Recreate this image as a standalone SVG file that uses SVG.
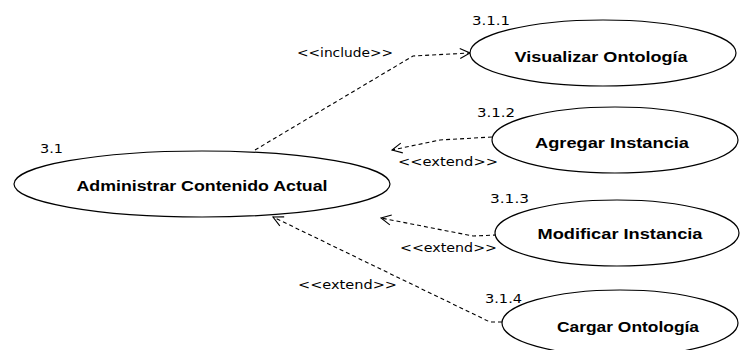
<svg xmlns="http://www.w3.org/2000/svg" width="742" height="350" viewBox="0 0 742 350">
  <defs>
    <marker id="open" viewBox="0 0 12 12" refX="11" refY="6" markerWidth="12" markerHeight="12" markerUnits="userSpaceOnUse" orient="auto">
      <path d="M1 1 L11 6 L1 11" fill="none" stroke="#000" stroke-width="1.1"/>
    </marker>
  </defs>
  <style>
    .uc { fill: #fff; stroke: #000; stroke-width: 1.2; }
    .name { font-family: "Liberation Sans", Arial, sans-serif; font-weight: bold; font-size: 15px; fill: #000; text-anchor: middle; }
    .num { font-family: "DejaVu Sans", Verdana, sans-serif; font-size: 13px; fill: #000; }
    .st { font-family: "DejaVu Sans", Verdana, sans-serif; font-size: 12.5px; fill: #000; }
    .dep { fill: none; stroke: #000; stroke-width: 1.1; stroke-dasharray: 4 3; marker-end: url(#open); }
  </style>
  <rect width="742" height="350" fill="#fff"/>

  <g id="connectors">
    <path class="dep" d="M255 150 L413 56 L470 53"/>
    <text class="st" x="297" y="57" textLength="96" lengthAdjust="spacingAndGlyphs">&lt;&lt;include&gt;&gt;</text>

    <path class="dep" d="M492 137 L440 140 L392 150"/>
    <text class="st" x="398" y="166" textLength="100" lengthAdjust="spacingAndGlyphs">&lt;&lt;extend&gt;&gt;</text>

    <path class="dep" d="M497 235 L473 236 L381 218"/>
    <text class="st" x="400" y="252" textLength="97" lengthAdjust="spacingAndGlyphs">&lt;&lt;extend&gt;&gt;</text>

    <path class="dep" d="M502 322 L490 322 L273 217"/>
    <text class="st" x="298" y="289" textLength="99" lengthAdjust="spacingAndGlyphs">&lt;&lt;extend&gt;&gt;</text>
  </g>

  <g id="uc-3.1">
    <ellipse class="uc" cx="202" cy="184" rx="188" ry="33"/>
    <text class="name" x="202" y="191" textLength="251" lengthAdjust="spacingAndGlyphs">Administrar Contenido Actual</text>
    <text class="num" x="40" y="153" textLength="23" lengthAdjust="spacingAndGlyphs">3.1</text>
  </g>

  <g id="uc-3.1.1">
    <ellipse class="uc" cx="603" cy="53" rx="133" ry="33"/>
    <text class="name" x="601" y="62" textLength="173" lengthAdjust="spacingAndGlyphs">Visualizar Ontología</text>
    <text class="num" x="472" y="25" textLength="38" lengthAdjust="spacingAndGlyphs">3.1.1</text>
  </g>

  <g id="uc-3.1.2">
    <ellipse class="uc" cx="615" cy="140" rx="123" ry="33"/>
    <text class="name" x="612" y="148" textLength="154" lengthAdjust="spacingAndGlyphs">Agregar Instancia</text>
    <text class="num" x="477" y="117" textLength="38" lengthAdjust="spacingAndGlyphs">3.1.2</text>
  </g>

  <g id="uc-3.1.3">
    <ellipse class="uc" cx="617" cy="233" rx="122" ry="33"/>
    <text class="name" x="620" y="239" textLength="165" lengthAdjust="spacingAndGlyphs">Modificar Instancia</text>
    <text class="num" x="490" y="203" textLength="39" lengthAdjust="spacingAndGlyphs">3.1.3</text>
  </g>

  <g id="uc-3.1.4">
    <ellipse class="uc" cx="620" cy="323" rx="118" ry="33"/>
    <text class="name" x="628" y="332" textLength="142" lengthAdjust="spacingAndGlyphs">Cargar Ontología</text>
    <text class="num" x="485" y="303" textLength="37" lengthAdjust="spacingAndGlyphs">3.1.4</text>
  </g>
</svg>
